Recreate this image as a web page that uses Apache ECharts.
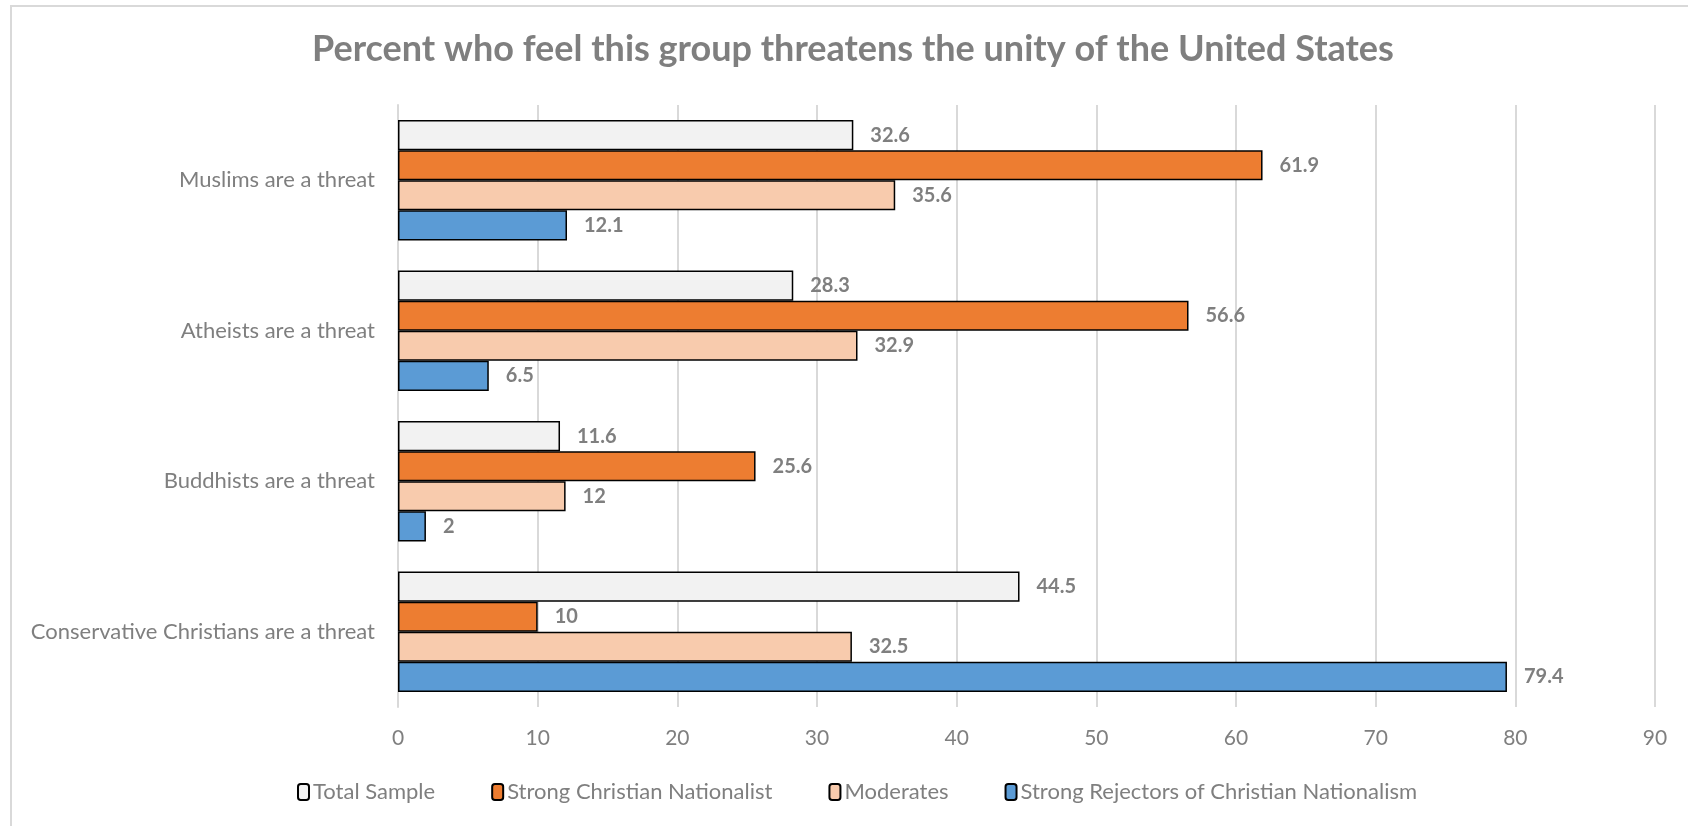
<!DOCTYPE html>
<html>
<head>
<meta charset="utf-8">
<script src="https://cdn.jsdelivr.net/npm/echarts@6/dist/echarts.min.js"></script>
<style>
html,body{margin:0;padding:0;background:#fff;}
#chart{width:1688px;height:826px;}
</style>
</head>
<body>
<div id="chart"></div>
<script>
const titleText = 'Percent who feel this group threatens the unity of the United States';
const categories = ['Muslims are a threat', 'Atheists are a threat', 'Buddhists are a threat', 'Conservative Christians are a threat'];
const seriesNames = ['Total Sample', 'Strong Christian Nationalist', 'Moderates', 'Strong Rejectors of Christian Nationalism'];
const totalSample = [32.6, 28.3, 11.6, 44.5];
const strongCN = [61.9, 56.6, 25.6, 10];
const moderates = [35.6, 32.9, 12, 32.5];
const strongRejectors = [12.1, 6.5, 2, 79.4];
const xTicks = [0, 10, 20, 30, 40, 50, 60, 70, 80, 90];
const colors = ['#F2F2F2', '#ED7D31', '#F8CBAD', '#5B9BD5'];

const seriesData = [totalSample, strongCN, moderates, strongRejectors];
const font = 'Lato, "Open Sans", sans-serif';
const gray = '#7F7F7F';

const chart = echarts.init(document.getElementById('chart'), null, {renderer: 'canvas'});
chart.setOption({
  animation: false,
  backgroundColor: '#fff',
  title: {
    text: titleText,
    left: 307,
    top: 26,
    textStyle: {fontFamily: font, fontSize: 36, fontWeight: 'bold', color: gray}
  },
  graphic: [
    {type: 'polyline', shape: {points: [[11, 826], [11, 6], [1688, 6]]}, style: {stroke: '#D9D9D9', lineWidth: 2, fill: null}}
  ],
  legend: {
    data: seriesNames,
    left: 292,
    top: 776,
    itemWidth: 11,
    itemHeight: 16,
    itemGap: 56,
    textStyle: {fontFamily: font, fontSize: 22, color: gray, padding: [0, 0, 0, -1]}
  },
  grid: {left: 398, right: 33, top: 105, bottom: 119, containLabel: false},
  xAxis: {
    type: 'value',
    min: xTicks[0],
    max: xTicks[xTicks.length - 1],
    interval: 10,
    axisLine: {show: false},
    axisTick: {show: false},
    splitLine: {show: true, lineStyle: {color: '#D9D9D9', width: 2}},
    axisLabel: {fontFamily: font, fontSize: 21, color: gray, margin: 21}
  },
  yAxis: {
    type: 'category',
    data: categories,
    inverse: true,
    axisLine: {show: true, lineStyle: {color: '#D9D9D9', width: 2}},
    axisTick: {show: false},
    axisLabel: {fontFamily: font, fontSize: 22, color: gray, margin: 23}
  },
  series: seriesNames.map((name, i) => ({
    name: name,
    type: 'bar',
    data: seriesData[i],
    barGap: '0%',
    barCategoryGap: '20%',
    itemStyle: {color: colors[i], borderColor: '#000', borderWidth: 1.5},
    label: {
      show: true,
      position: 'right',
      distance: 17,
      fontFamily: font,
      fontSize: 20,
      fontWeight: 'bold',
      color: gray
    }
  }))
});
</script>
</body>
</html>
